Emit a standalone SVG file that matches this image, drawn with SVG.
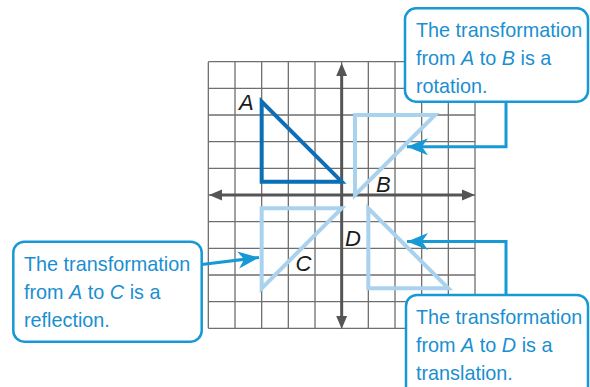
<svg xmlns="http://www.w3.org/2000/svg" width="590" height="387" viewBox="0 0 590 387">
  <style>
    .grid { stroke: #6f6f6f; stroke-width: 1.3; fill: none; }
    .axis { stroke: #555555; stroke-width: 3; fill: none; }
    .axhead { fill: #555555; }
    .triA { stroke: #0b6fb6; stroke-width: 4; fill: none; stroke-linejoin: miter; stroke-miterlimit: 4; }
    .triL { stroke: #a9d2ef; stroke-width: 4; fill: none; stroke-linejoin: miter; stroke-miterlimit: 4; }
    .lbl { font-family: "Liberation Sans", Arial, sans-serif; font-style: italic; font-size: 22px; fill: #1a1a1a; }
    .box { fill: #ffffff; stroke: #1799d6; stroke-width: 2.5; }
    .ctext { font-family: "Liberation Sans", Arial, sans-serif; font-size: 21px; fill: #1a8fd0; }
    .it { font-style: italic; }
    .conn { stroke: #1799d6; stroke-width: 3; fill: none; }
  </style>
  <defs>
    <marker id="arr" markerUnits="userSpaceOnUse" markerWidth="24" markerHeight="20" viewBox="-22 -10 24 20" refX="0" refY="0" orient="auto">
      <path d="M0,0 L-21,-8.5 L-15,0 L-21,8.5 Z" fill="#1799d6"/>
    </marker>
  </defs>

  <rect width="590" height="387" fill="#ffffff"/>

  <g id="grid" class="grid">
    <path d="M208.33,61.67V328.33 M235,61.67V328.33 M261.67,61.67V328.33 M288.33,61.67V328.33 M315,61.67V328.33 M341.67,61.67V328.33 M368.33,61.67V328.33 M395,61.67V328.33 M421.67,61.67V328.33 M448.33,61.67V328.33 M475,61.67V328.33"/>
    <path d="M208.33,61.67H475 M208.33,88.33H475 M208.33,115H475 M208.33,141.67H475 M208.33,168.33H475 M208.33,195H475 M208.33,221.67H475 M208.33,248.33H475 M208.33,275H475 M208.33,301.67H475 M208.33,328.33H475"/>
  </g>

  <g id="axes">
    <line class="axis" x1="220" y1="195" x2="464" y2="195"/>
    <polygon class="axhead" points="209,195 222,189.5 222,200.5"/>
    <polygon class="axhead" points="475,195 462,189.5 462,200.5"/>
    <line class="axis" x1="341.67" y1="74" x2="341.67" y2="318"/>
    <polygon class="axhead" points="341.67,63 336.2,76 347.1,76"/>
    <polygon class="axhead" points="341.67,329 336.2,316 347.1,316"/>
  </g>

  <g id="triangle-B">
    <polygon class="triL" points="355,195 355,115 435,115"/>
    <text class="lbl" x="376" y="191.5">B</text>
  </g>
  <g id="triangle-C">
    <polygon class="triL" points="261.67,208.33 341.67,208.33 261.67,288.33"/>
    <text class="lbl" x="295.5" y="270.5">C</text>
  </g>
  <g id="triangle-D">
    <polygon class="triL" points="368.33,208.33 368.33,288.33 448.33,288.33"/>
    <text class="lbl" x="345" y="245.5">D</text>
  </g>
  <g id="triangle-A">
    <polygon class="triA" points="261.67,101.67 261.67,181.67 341.67,181.67"/>
    <text class="lbl" x="239" y="110">A</text>
  </g>

  <g id="connectors">
    <polyline class="conn" points="506,101.7 506,146.7 407,146.7" marker-end="url(#arr)"/>
    <line class="conn" x1="201.7" y1="264.5" x2="259" y2="257.5" marker-end="url(#arr)"/>
    <polyline class="conn" points="506,295 506,241.5 407,241.5" marker-end="url(#arr)"/>
  </g>

  <g id="callout-rotation">
    <rect class="box" x="405" y="8.3" width="183" height="93.4" rx="11"/>
    <g transform="translate(416,0) scale(0.943,1)">
      <text class="ctext" x="0" y="37">The transformation</text>
      <text class="ctext" x="0" y="65.3">from <tspan class="it">A</tspan> to <tspan class="it">B</tspan> is a</text>
      <text class="ctext" x="0" y="93.5">rotation.</text>
    </g>
  </g>

  <g id="callout-reflection">
    <rect class="box" x="13.3" y="241.7" width="188.4" height="100" rx="11"/>
    <g transform="translate(24,0) scale(0.943,1)">
      <text class="ctext" x="0" y="270.7">The transformation</text>
      <text class="ctext" x="0" y="298.7">from <tspan class="it">A</tspan> to <tspan class="it">C</tspan> is a</text>
      <text class="ctext" x="0" y="326.7">reflection.</text>
    </g>
  </g>

  <g id="callout-translation">
    <rect class="box" x="406" y="295" width="182" height="110" rx="11"/>
    <g transform="translate(416,0) scale(0.943,1)">
      <text class="ctext" x="0" y="324">The transformation</text>
      <text class="ctext" x="0" y="352">from <tspan class="it">A</tspan> to <tspan class="it">D</tspan> is a</text>
      <text class="ctext" x="0" y="380">translation.</text>
    </g>
  </g>
</svg>
